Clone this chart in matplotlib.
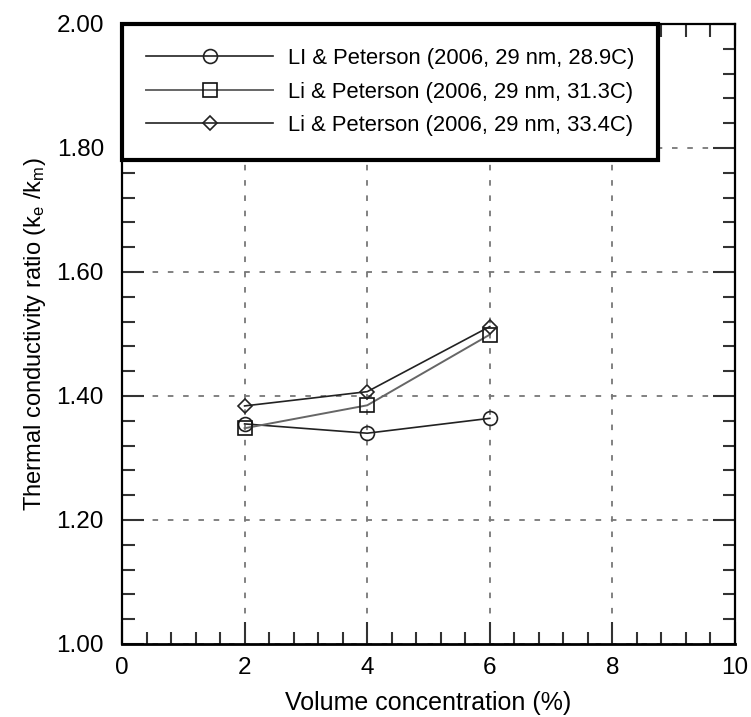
import matplotlib
matplotlib.use("Agg")
import matplotlib.pyplot as plt
from matplotlib.ticker import MultipleLocator, FormatStrFormatter

plt.rcParams['font.family'] = ['Liberation Sans', 'DejaVu Sans']
plt.rcParams['mathtext.fontset'] = 'custom'
plt.rcParams['mathtext.rm'] = 'Liberation Sans'
plt.rcParams['mathtext.it'] = 'Liberation Sans'
plt.rcParams['lines.scale_dashes'] = False

x_conc = [2, 4, 6]
k_289 = [1.355, 1.340, 1.364]
k_313 = [1.348, 1.385, 1.499]
k_334 = [1.384, 1.407, 1.512]
labels = ["LI & Peterson (2006, 29 nm, 28.9C)",
          "Li & Peterson (2006, 29 nm, 31.3C)",
          "Li & Peterson (2006, 29 nm, 33.4C)"]
xticks = [0, 2, 4, 6, 8, 10]
yticks = [1.00, 1.20, 1.40, 1.60, 1.80, 2.00]

fig = plt.figure(figsize=(7.51, 7.17), dpi=100)
ax = fig.add_axes([122/751, 1-644/717, (735-122)/751, (644-24)/717])

ax.set_xlim(0, 10)
ax.set_ylim(1.0, 2.0)
ax.set_xticks(xticks)
ax.set_yticks(yticks)
ax.yaxis.set_major_formatter(FormatStrFormatter('%.2f'))
ax.xaxis.set_minor_locator(MultipleLocator(0.4))
ax.yaxis.set_minor_locator(MultipleLocator(0.04))
ax.tick_params(which='both', direction='in', top=True, right=True, labelsize=17.5, width=1.5, color='#333')
ax.tick_params(which='major', length=16)
ax.tick_params(axis='y', which='major', pad=13)
ax.tick_params(axis='x', which='major', pad=9)
ax.tick_params(which='minor', length=9)
for s in ax.spines.values():
    s.set_linewidth(1.6)
ax.spines['bottom'].set_linewidth(2.0)

ax.grid(True, which='major', color='#777', linestyle=(0, (4, 7)), linewidth=1.3)

ms_kw = dict(markerfacecolor='none', markeredgewidth=1.2)
ax.plot(x_conc, k_289, color='#222', lw=1.2, marker='o', ms=10, label=labels[0], **ms_kw, markeredgecolor='#222')
ax.plot(x_conc, k_313, color='#666', lw=1.4, marker='s', ms=10, label=labels[1], **ms_kw, markeredgecolor='#111')
ax.plot(x_conc, k_334, color='#222', lw=1.2, marker='D', ms=7, label=labels[2], **ms_kw, markeredgecolor='#222')

leg = ax.legend(loc='upper left', bbox_to_anchor=(0, 1), borderaxespad=0, fontsize=15.8,
                handlelength=5.8, handletextpad=0.65, labelspacing=0.57, borderpad=1.1,
                fancybox=False, framealpha=1, edgecolor='black')
leg.get_frame().set_linewidth(3)

ax.set_xlabel('Volume concentration (%)', fontsize=18, labelpad=9)
ax.set_ylabel(r'Thermal conductivity ratio (k$_{\rm e}$ /k$_{\rm m}$)', fontsize=17, labelpad=6)

fig.savefig('out.png', dpi=100)
